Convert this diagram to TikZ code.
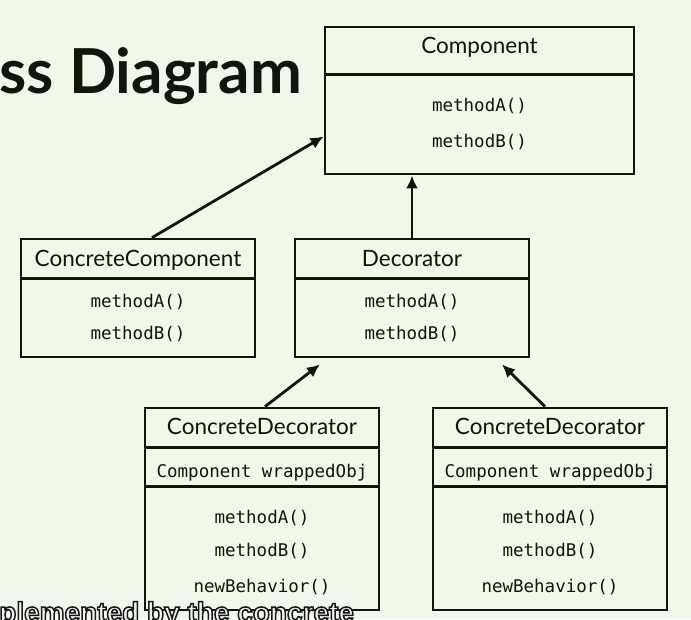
\documentclass[tikz,border=0pt]{standalone}
\usepackage{fontspec}
\setmainfont{Lato}
\newfontfamily\codefont{DejaVu Sans Mono}
\newfontfamily\capfont{Liberation Sans}
\usetikzlibrary{arrows.meta,calc}
\definecolor{bgcol}{RGB}{238,249,233}
\definecolor{ink}{RGB}{14,24,10}
% outlined caption text (fill + stroke)
\newcommand{\outlined}[1]{\special{pdf:literal direct 2 Tr 1.5 w 0.1 0.1 0.1 RG}#1\special{pdf:literal direct 0 Tr}}

\begin{document}
\begin{tikzpicture}[x=1pt, y=-1pt,
  cls/.style={draw=ink, line width=2.8pt, inner sep=0pt},
  sep/.style={draw=ink, line width=2.8pt},
  ttl/.style={font=\fontsize{22.5}{26}\selectfont, text=ink, anchor=base, inner sep=0pt},
  mth/.style={font=\codefont\fontsize{17.5}{20}\selectfont, text=ink, anchor=base, inner sep=0pt},
  inh/.style={draw=ink, line width=2.8pt, -{Latex[length=13pt,width=12pt]}},
  sub/.style={font=\capfont\bfseries\fontsize{28}{32}\selectfont, anchor=base west, inner sep=0pt},
]
\useasboundingbox (0,0) rectangle (691,619);
\clip (0,0) rectangle (691,619);
\fill[bgcol] (0,0) rectangle (691,619);

% ====== Heading ======
\node[font=\bfseries\fontsize{62}{72}\selectfont, text=ink, anchor=base east, inner sep=0pt]
  (head) at (302,93) {ss Diagram};

% ====== Component ======
\node[cls, minimum width=309pt, minimum height=147pt] (comp) at (479.5,100.5) {};
\draw[sep] ($(comp.north west)+(0,49)$) -- ($(comp.north east)+(0,49)$);
\node[ttl] (compT) at (479.5,53) {Component};
\node[mth] (compA) at (479.5,111) {methodA()};
\node[mth] (compB) at (479.5,147) {methodB()};

% ====== ConcreteComponent / Decorator ======
\foreach \n/\cx/\name in {cc/138/ConcreteComponent, dec/412/Decorator} {
  \node[cls, minimum width=234pt, minimum height=118pt] (\n) at (\cx,298) {};
  \draw[sep] ($(\n.north west)+(0,41)$) -- ($(\n.north east)+(0,41)$);
  \node[ttl] (\n T) at (\cx,266) {\name};
  \node[mth] (\n A) at (\cx,307) {methodA()};
  \node[mth] (\n B) at (\cx,339) {methodB()};
}

% ====== ConcreteDecorators ======
\foreach \n/\cx in {cdl/262, cdr/550} {
  \node[cls, minimum width=234pt, minimum height=202pt] (\n) at (\cx,509) {};
  \draw[sep] ($(\n.north west)+(0,41)$) -- ($(\n.north east)+(0,41)$);
  \draw[sep] ($(\n.north west)+(0,80)$) -- ($(\n.north east)+(0,80)$);
  \node[ttl] (\n T) at (\cx,434) {ConcreteDecorator};
  \node[mth] (\n F) at (\cx,477) {Component wrappedObj};
  \node[mth] (\n A) at (\cx,523) {methodA()};
  \node[mth] (\n B) at (\cx,556) {methodB()};
  \node[mth] (\n N) at (\cx,592) {newBehavior()};
}

% ====== Inheritance arrows ======
\draw[inh] ([xshift=14pt]cc.north) -- ([yshift=-36pt]comp.west);
\draw[inh] (dec.north) -- (dec.north |- comp.south);
\draw[inh] ([xshift=3pt]cdl.north) -- ([xshift=-92pt,yshift=-6pt]dec.south);
\draw[inh] ([xshift=-5pt]cdr.north) -- ([xshift=90pt,yshift=-6pt]dec.south);

% ====== Caption line ======
\node[sub, text=white!95!black] (subT) at (-1,622) {\outlined{plemented by the concrete}};

\end{tikzpicture}
\end{document}
